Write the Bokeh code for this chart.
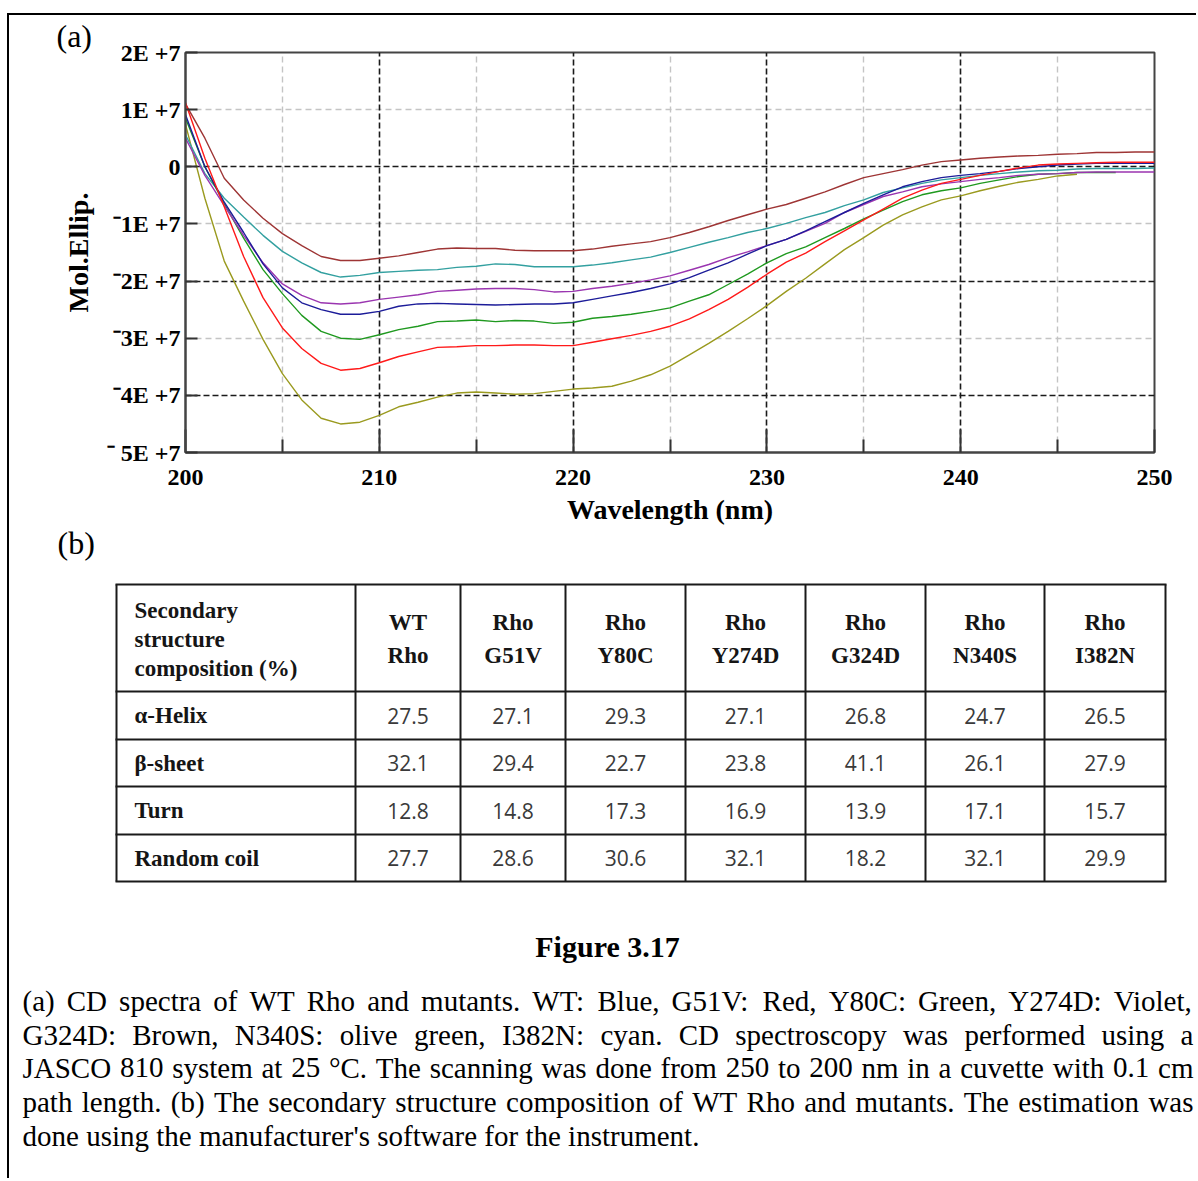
from bokeh.plotting import figure
from bokeh.models import Range1d, FixedTicker, Grid, CustomJSTickFormatter, Title
from bokeh.embed import file_html
from bokeh.resources import INLINE
from bokeh.core.properties import value

# ---------------- data (panel a: CD spectra, Mol. Ellip. in units of 1E+7) ----------------
wavelength_nm = [200, 201, 202, 203, 204, 205, 206, 207, 208, 209,
                 210, 211, 212, 213, 214, 215, 216, 217, 218, 219,
                 220, 221, 222, 223, 224, 225, 226, 227, 228, 229,
                 230, 231, 232, 233, 234, 235, 236, 237, 238, 239,
                 240, 241, 242, 243, 244, 245, 246, 247, 248, 249, 250]

wt_blue = [0.91, 0.00, -0.62, -1.15, -1.70, -2.12, -2.38, -2.50, -2.58, -2.58,
           -2.53, -2.44, -2.40, -2.39, -2.40, -2.41, -2.42, -2.41, -2.40, -2.40,
           -2.38, -2.32, -2.26, -2.20, -2.13, -2.05, -1.94, -1.81, -1.68, -1.53,
           -1.38, -1.27, -1.12, -0.96, -0.80, -0.64, -0.49, -0.35, -0.26, -0.19,
           -0.15, -0.12, -0.08, -0.03, 0.00, 0.03, 0.05, 0.06, 0.06, 0.06, 0.06]
g51v_red = [1.12, 0.15, -0.70, -1.57, -2.29, -2.82, -3.18, -3.44, -3.56, -3.53,
            -3.43, -3.32, -3.24, -3.16, -3.15, -3.13, -3.13, -3.12, -3.12, -3.13,
            -3.13, -3.07, -3.01, -2.95, -2.88, -2.79, -2.66, -2.50, -2.32, -2.11,
            -1.88, -1.67, -1.51, -1.31, -1.12, -0.93, -0.74, -0.55, -0.41, -0.29,
            -0.22, -0.15, -0.08, -0.02, 0.03, 0.05, 0.06, 0.07, 0.08, 0.08, 0.08]
y80c_green = [0.85, 0.00, -0.65, -1.25, -1.80, -2.22, -2.60, -2.88, -3.00, -3.02,
              -2.94, -2.85, -2.79, -2.71, -2.70, -2.68, -2.71, -2.69, -2.70, -2.74,
              -2.72, -2.65, -2.62, -2.58, -2.53, -2.47, -2.35, -2.24, -2.06, -1.88,
              -1.68, -1.52, -1.40, -1.24, -1.08, -0.91, -0.76, -0.61, -0.49, -0.42,
              -0.37, -0.29, -0.23, -0.17, -0.13, -0.12, -0.10, -0.10, -0.10]
y274d_violet = [0.50, -0.15, -0.68, -1.20, -1.68, -2.05, -2.25, -2.38, -2.40, -2.38,
                -2.32, -2.28, -2.24, -2.18, -2.16, -2.14, -2.13, -2.13, -2.15, -2.19,
                -2.18, -2.13, -2.09, -2.04, -1.98, -1.91, -1.81, -1.71, -1.59, -1.49,
                -1.38, -1.27, -1.13, -0.99, -0.80, -0.66, -0.52, -0.44, -0.35, -0.30,
                -0.26, -0.22, -0.19, -0.15, -0.13, -0.12, -0.10, -0.09, -0.09, -0.09, -0.09]
g324d_brown = [1.10, 0.50, -0.20, -0.58, -0.90, -1.17, -1.38, -1.57, -1.64, -1.64,
               -1.60, -1.56, -1.50, -1.44, -1.42, -1.43, -1.43, -1.46, -1.47, -1.47,
               -1.47, -1.44, -1.39, -1.35, -1.31, -1.24, -1.15, -1.05, -0.94, -0.84,
               -0.74, -0.66, -0.55, -0.44, -0.31, -0.19, -0.12, -0.05, 0.03, 0.09,
               0.12, 0.15, 0.17, 0.19, 0.20, 0.22, 0.23, 0.25, 0.25, 0.26, 0.26]
n340s_olive = [0.74, -0.55, -1.65, -2.35, -3.02, -3.62, -4.08, -4.40, -4.50, -4.47,
               -4.35, -4.20, -4.12, -4.03, -3.96, -3.94, -3.96, -3.98, -3.97, -3.93,
               -3.89, -3.87, -3.84, -3.75, -3.64, -3.49, -3.29, -3.09, -2.88, -2.66,
               -2.43, -2.18, -1.95, -1.70, -1.45, -1.24, -1.02, -0.84, -0.70, -0.58,
               -0.51, -0.42, -0.34, -0.27, -0.22, -0.16, -0.13]
i382n_cyan = [0.56, -0.12, -0.55, -0.88, -1.20, -1.48, -1.68, -1.85, -1.93, -1.90,
              -1.85, -1.83, -1.81, -1.80, -1.76, -1.74, -1.70, -1.71, -1.75, -1.75,
              -1.75, -1.72, -1.68, -1.63, -1.58, -1.50, -1.41, -1.32, -1.24, -1.15,
              -1.08, -0.99, -0.89, -0.80, -0.68, -0.58, -0.45, -0.37, -0.29, -0.23,
              -0.19, -0.15, -0.12, -0.09, -0.07, -0.06, -0.04, -0.03, -0.03, -0.03, -0.02]

x_major_ticks = [200, 210, 220, 230, 240, 250]
x_minor_ticks = [205, 215, 225, 235, 245]
y_ticks = [-5e7, -4e7, -3e7, -2e7, -1e7, 0, 1e7, 2e7]

# ---------------- data (panel b: table) ----------------
sample_names = ["WT Rho", "Rho G51V", "Rho Y80C", "Rho Y274D", "Rho G324D", "Rho N340S", "Rho I382N"]
row_names = ["α-Helix", "β-sheet", "Turn", "Random coil"]
alpha_helix = [27.5, 27.1, 29.3, 27.1, 26.8, 24.7, 26.5]
beta_sheet = [32.1, 29.4, 22.7, 23.8, 41.1, 26.1, 27.9]
turn = [12.8, 14.8, 17.3, 16.9, 13.9, 17.1, 15.7]
random_coil = [27.7, 28.6, 30.6, 32.1, 18.2, 32.1, 29.9]
header_first = ["Secondary", "structure", "composition (%)"]

caption_title = "Figure 3.17"
caption_lines = [
    "(a) CD spectra of WT Rho and mutants. WT: Blue, G51V: Red, Y80C: Green, Y274D: Violet,",
    "G324D: Brown, N340S: olive green, I382N: cyan. CD spectroscopy was performed using a",
    "JASCO 810 system at 25 °C. The scanning was done from 250 to 200 nm in a cuvette with 0.1 cm",
    "path length. (b) The secondary structure composition of WT Rho and mutants. The estimation was",
    "done using the manufacturer's software for the instrument.",
]

SERIF = "Liberation Serif"
E7 = 1e7

# page geometry (page pixels)
CANVAS_X = 9            # left of canvases (7px margin + 2px border)
CANVAS_Y = 15           # top of first canvas (13px margin + 2px border)
W = 1189
H1 = 563
H2 = 602
FRAME_L, FRAME_T, FRAME_R, FRAME_B = 185, 52, 1154, 452

# ================= panel (a) =================
p1 = figure(width=W, height=H1, x_range=Range1d(200, 250), y_range=Range1d(-5e7, 2e7),
            output_backend="svg", toolbar_location=None,
            min_border_left=FRAME_L - CANVAS_X, min_border_top=FRAME_T - CANVAS_Y,
            min_border_right=CANVAS_X + W - FRAME_R,
            min_border_bottom=CANVAS_Y + H1 - FRAME_B)
p1.styles = {"margin-left": "7px", "margin-top": "13px",
             "border-left": "2px solid black", "border-top": "2px solid black"}
p1.outline_line_color = "#444444"
p1.outline_line_width = 2
p1.background_fill_color = "white"
p1.border_fill_color = "white"
p1.grid.visible = False

grid_specs = [
    (0, x_minor_ticks, "#c4c4c4", "6 4", 1.4),
    (1, [-3e7, -1e7, 1e7], "#c4c4c4", "6 4", 1.4),
    (0, [210, 220, 230, 240], "#1a1a1a", "6 3", 1.6),
    (1, [-4e7, -2e7, 0], "#1a1a1a", "6 3", 1.6),
]
for dim, ticks, col, dash, lw in grid_specs:
    p1.add_layout(Grid(dimension=dim, ticker=FixedTicker(ticks=ticks), grid_line_color=col,
                       grid_line_dash=dash, grid_line_width=lw))

series = [
    (n340s_olive, "#9a9a1f"),
    (i382n_cyan, "#33a0a0"),
    (y80c_green, "#1f991f"),
    (y274d_violet, "#9a35b0"),
    (wt_blue, "#1c1c99"),
    (g324d_brown, "#9e3535"),
    (g51v_red, "#ff1a1a"),
]
for vals, col in series:
    xs = wavelength_nm[:len(vals)]
    p1.line(xs, [v * E7 for v in vals], line_color=col, line_width=1.4)

xa = p1.xaxis[0]
xa.ticker = FixedTicker(ticks=x_major_ticks, minor_ticks=x_minor_ticks)
xa.axis_label = "Wavelength (nm)"
ya = p1.yaxis[0]
ya.ticker = FixedTicker(ticks=y_ticks)
ya.axis_label = "Mol.Ellip."
ya.formatter = CustomJSTickFormatter(code="""
const m = Math.round(tick / 1e7);
if (m === 0) return "0";
if (m > 0) return m + "E +7";
if (m === -5) return "\\u207B 5E +7";
return "\\u207B" + (-m) + "E +7";
""")
for ax in (xa, ya):
    ax.axis_line_color = "#444444"
    ax.axis_line_width = 2
    ax.major_tick_out = 0
    ax.minor_tick_out = 0
    ax.major_tick_line_color = "#333333"
    ax.major_tick_line_width = 2
    ax.minor_tick_line_color = "#333333"
    ax.minor_tick_line_width = 2
    ax.major_label_text_font = SERIF
    ax.major_label_text_font_style = "bold"
    ax.major_label_text_font_size = "24px"
    ax.major_label_text_color = "black"
    ax.axis_label_text_font = SERIF
    ax.axis_label_text_font_style = "bold"
    ax.axis_label_text_font_size = "28px"
    ax.axis_label_text_color = "black"
xa.major_tick_in = 23
xa.minor_tick_in = 13
xa.major_label_standoff = 17
xa.axis_label_standoff = 6
ya.major_tick_in = 12
ya.minor_tick_line_color = None
ya.major_label_standoff = 5
ya.axis_label_standoff = 10

p1.add_layout(Title(text="(a)", align="left", offset=-129, standoff=-3, text_font=SERIF,
                    text_font_style="normal", text_font_size="32px", text_color="black"), "above")
p1.add_layout(Title(text="(b)", align="left", offset=-128, standoff=-10, text_font=SERIF,
                    text_font_style="normal", text_font_size="32px", text_color="black"), "below")

# ================= panel (b) + caption (page-pixel canvas) =================
Y0 = CANVAS_Y + H1
p2 = figure(width=W, height=H2, x_range=Range1d(CANVAS_X, CANVAS_X + W),
            y_range=Range1d(Y0 + H2, Y0), output_backend="svg", toolbar_location=None,
            x_axis_type=None, y_axis_type=None, min_border=0, min_border_left=0,
            min_border_right=0, min_border_top=0, min_border_bottom=0)
p2.styles = {"margin-left": "7px", "border-left": "2px solid black"}
p2.outline_line_color = None
p2.background_fill_color = "white"
p2.border_fill_color = "white"

# table grid
col_edges = [116, 355, 460, 565, 685, 805, 925, 1044, 1165]
row_edges = [586, 693, 741, 788, 836, 883]
p2.segment(x0=col_edges, y0=[row_edges[0]] * len(col_edges), x1=col_edges,
           y1=[row_edges[-1]] * len(col_edges), line_color="#1a1a1a", line_width=2)
p2.segment(x0=[col_edges[0] - 1] * len(row_edges), y0=row_edges, x1=[col_edges[-1] + 1] * len(row_edges),
           y1=row_edges, line_color="#1a1a1a", line_width=2)

TXT = "#151515"
p2.text(x=[134] * 3, y=[612, 641, 670], text=header_first, text_align="left", text_baseline="middle",
        text_font=value(SERIF), text_font_style="bold", text_font_size="23px", text_color=TXT)
centers = [(col_edges[i + 1] + col_edges[i + 2]) / 2 for i in range(len(sample_names))]
h1 = [n.split(" ")[0] for n in sample_names]
h2 = [n.split(" ")[1] for n in sample_names]
p2.text(x=centers, y=[624] * len(centers), text=h1, text_align="center", text_baseline="middle",
        text_font=value(SERIF), text_font_style="bold", text_font_size="23px", text_color=TXT)
p2.text(x=centers, y=[657] * len(centers), text=h2, text_align="center", text_baseline="middle",
        text_font=value(SERIF), text_font_style="bold", text_font_size="23px", text_color=TXT)

row_centers = [(row_edges[i + 1] + row_edges[i + 2]) / 2 for i in range(len(row_names))]
p2.text(x=[134] * len(row_names), y=row_centers, text=row_names, text_align="left",
        text_baseline="middle", text_font=value(SERIF), text_font_style="bold",
        text_font_size="23px", text_color=TXT)
for rc, vals in zip(row_centers, [alpha_helix, beta_sheet, turn, random_coil]):
    p2.text(x=centers, y=[rc] * len(vals), text=[f"{v:.1f}" for v in vals], text_align="center",
            text_baseline="middle", text_font=value("Open Sans"), text_font_size="21px",
            text_color="#3a3a3a")

# caption
p2.text(x=[607], y=[948], text=[caption_title], text_align="center", text_baseline="middle",
        text_font=value(SERIF), text_font_style="bold", text_font_size="30px", text_color="black")

TIMES_W = {' ': 250, '(': 333, ')': 333, '.': 250, ',': 250, ':': 278, "'": 180, '°': 400, '-': 333,
           'A': 722, 'B': 667, 'C': 667, 'D': 722, 'E': 611, 'F': 556, 'G': 722, 'H': 722, 'I': 333,
           'J': 389, 'K': 722, 'L': 611, 'M': 889, 'N': 722, 'O': 722, 'P': 556, 'Q': 722, 'R': 667,
           'S': 556, 'T': 611, 'U': 722, 'V': 722, 'W': 944, 'X': 722, 'Y': 722, 'Z': 611,
           'a': 444, 'b': 500, 'c': 444, 'd': 500, 'e': 444, 'f': 333, 'g': 500, 'h': 500, 'i': 278,
           'j': 278, 'k': 500, 'l': 278, 'm': 778, 'n': 500, 'o': 500, 'p': 500, 'q': 500, 'r': 333,
           's': 389, 't': 278, 'u': 500, 'v': 500, 'w': 722, 'x': 500, 'y': 500, 'z': 444}
FS = 29
CAP_L, CAP_R = 22, 1193
cap_y = [1002, 1036, 1069, 1103, 1137]
wx, wy, wt = [], [], []
for i, (line, yy) in enumerate(zip(caption_lines, cap_y)):
    words = line.split(" ")
    widths = [sum(TIMES_W.get(c, 500) for c in w) * FS / 1000 for w in words]
    if i < len(caption_lines) - 1:
        gap = (CAP_R - CAP_L - sum(widths)) / (len(words) - 1)
    else:
        gap = TIMES_W[' '] * FS / 1000
    x = CAP_L
    for w, wd in zip(words, widths):
        wx.append(x)
        wy.append(yy)
        wt.append(w)
        x += wd + gap
p2.text(x=wx, y=wy, text=wt, text_align="left", text_baseline="middle", text_font=value(SERIF),
        text_font_size=f"{FS}px", text_color="black")

open("out.html", "w").write(file_html([p1, p2], INLINE))
